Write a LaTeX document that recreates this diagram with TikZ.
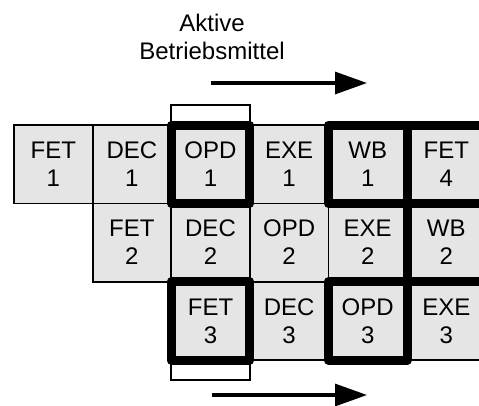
\documentclass[tikz,border=0pt]{standalone}
\usepackage{fontspec}
\setmainfont{Liberation Sans}
\usetikzlibrary{arrows.meta}
\begin{document}
\begin{tikzpicture}[x=1pt,y=-1pt,
  cell/.style={draw=black, line width=1.8pt, fill=gray!20,
    minimum width=78.6pt, minimum height=78.4pt, inner sep=0pt, outer sep=0pt,
    align=center, font=\fontsize{24}{28}\selectfont},
  hilite/.style={draw=black, line width=9pt, line join=round},
  bracket/.style={draw=black, line width=1.8pt},
  flow/.style={line width=3.2pt, -{Triangle[length=32pt,width=22pt]}},
  caption/.style={align=center, font=\fontsize{24}{28}\selectfont}]
\clip (0,0) rectangle (479,405);

% heading
\node[caption] (title) at (212,37) {Aktive\\Betriebsmittel};

% pipeline stages, one row per instruction
\node[cell] (fet1) at (53.3,164.2)  {FET\\1};
\node[cell] (dec1) at (131.9,164.2) {DEC\\1};
\node[cell] (opd1) at (210.5,164.2) {OPD\\1};
\node[cell] (exe1) at (289.1,164.2) {EXE\\1};
\node[cell] (wb1)  at (367.7,164.2) {WB\\1};
\node[cell] (fet4) at (446.3,164.2) {FET\\4};

\node[cell] (fet2) at (131.9,242.6) {FET\\2};
\node[cell] (dec2) at (210.5,242.6) {DEC\\2};
\node[cell] (opd2) at (289.1,242.6) {OPD\\2};
\node[cell] (exe2) at (367.7,242.6) {EXE\\2};
\node[cell] (wb2)  at (446.3,242.6) {WB\\2};

\node[cell] (fet3) at (210.5,321.0) {FET\\3};
\node[cell] (dec3) at (289.1,321.0) {DEC\\3};
\node[cell] (opd3) at (367.7,321.0) {OPD\\3};
\node[cell] (exe3) at (446.3,321.0) {EXE\\3};

% open brackets above and below the third column
\draw[bracket] (opd1.north west) -- ++(0,-20) -| (opd1.north east);
\draw[bracket] (fet3.south west) -- ++(0,20) -| (fet3.south east);

% highlighted stages
\foreach \n in {opd1,fet3,opd3,wb1,fet4,wb2}
  \draw[hilite] (\n.north west) rectangle (\n.south east);

% direction arrows
\coordinate (topstart) at (211,83);
\coordinate (topend) at (367,83);
\coordinate (botstart) at (212,395);
\coordinate (botend) at (367,395);
\draw[flow] (topstart) -- (topend);
\draw[flow] (botstart) -- (botend);
\end{tikzpicture}
\end{document}
